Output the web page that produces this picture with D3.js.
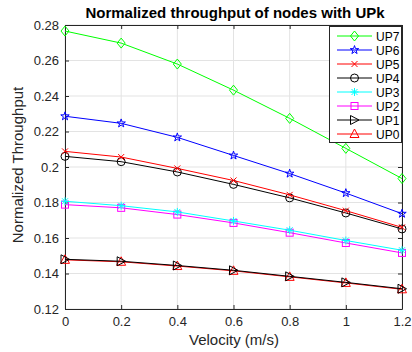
<!DOCTYPE html>
<html><head><meta charset="utf-8">
<script src="https://cdn.jsdelivr.net/npm/d3@7"></script>
<style>body{margin:0;background:#fff}svg{display:block;font-family:"Liberation Sans",Arial,sans-serif}</style>
</head><body><svg id="c" width="412" height="352"></svg>
<script>
const velocity = [0, 0.2, 0.4, 0.6, 0.8, 1.0, 1.2];
const UP7 = [0.2766, 0.2698, 0.2580, 0.2433, 0.2274, 0.2105, 0.1935];
const UP6 = [0.2286, 0.2246, 0.2167, 0.2065, 0.1963, 0.1853, 0.1737];
const UP5 = [0.2088, 0.2056, 0.1992, 0.1924, 0.1843, 0.1754, 0.1660];
const UP4 = [0.2060, 0.2030, 0.1972, 0.1902, 0.1826, 0.1741, 0.1651];
const UP3 = [0.1807, 0.1782, 0.1747, 0.1696, 0.1644, 0.1586, 0.1531];
const UP2 = [0.1788, 0.1770, 0.1732, 0.1685, 0.1630, 0.1572, 0.1516];
const UP1 = [0.1480, 0.1469, 0.1445, 0.1418, 0.1384, 0.1350, 0.1314];
const UP0 = [0.1477, 0.1466, 0.1442, 0.1415, 0.1381, 0.1347, 0.1311];
const xTicks = [0, 0.2, 0.4, 0.6, 0.8, 1, 1.2];
const yTicks = [0.12, 0.14, 0.16, 0.18, 0.2, 0.22, 0.24, 0.26, 0.28];
const seriesNames = ["UP7","UP6","UP5","UP4","UP3","UP2","UP1","UP0"];
const seriesValues = [UP7,UP6,UP5,UP4,UP3,UP2,UP1,UP0];
const seriesColors = ["#00ff00","#0000ff","#ff0000","#000000","#00ffff","#ff00ff","#000000","#ff0000"];
const seriesMarkers = ["diamond","star","x","circle","asterisk","square","triRight","triUp"];

const svg = d3.select("#c");
const L = 65, R = 402, T = 25, B = 309;
const x = d3.scaleLinear().domain([0, 1.2]).range([L, R]);
const y = d3.scaleLinear().domain([0.12, 0.28]).range([B, T]);

// grid
const g = svg.append("g");
g.selectAll(".gx").data(xTicks).join("line")
  .attr("x1", d => x(d)).attr("x2", d => x(d)).attr("y1", T).attr("y2", B)
  .attr("stroke", "#e3e3e3").attr("stroke-width", 1);
g.selectAll(".gy").data(yTicks).join("line")
  .attr("x1", L).attr("x2", R).attr("y1", d => y(d)).attr("y2", d => y(d))
  .attr("stroke", "#e3e3e3").attr("stroke-width", 1);

// axes
const fmt = d => String(+d.toFixed(2));
const ax = svg.append("g").attr("transform", `translate(0,${B})`)
  .call(d3.axisBottom(x).tickValues(xTicks).tickFormat(fmt).tickSizeInner(-4).tickSizeOuter(0).tickPadding(8));
const ay = svg.append("g").attr("transform", `translate(${L},0)`)
  .call(d3.axisLeft(y).tickValues(yTicks).tickFormat(fmt).tickSizeInner(-4).tickSizeOuter(0).tickPadding(6));
const axt = svg.append("g").attr("transform", `translate(0,${T})`)
  .call(d3.axisTop(x).tickValues(xTicks).tickFormat("").tickSizeInner(-4).tickSizeOuter(0));
const ayr = svg.append("g").attr("transform", `translate(${R},0)`)
  .call(d3.axisRight(y).tickValues(yTicks).tickFormat("").tickSizeInner(-4).tickSizeOuter(0));
[ax, ay, axt, ayr].forEach(a => {
  a.selectAll("path,line").attr("stroke", "#262626");
  a.selectAll("text").attr("fill", "#262626").style("font-size", "13px").style("font-family", "Liberation Sans, Arial, sans-serif");
});

// marker drawing
function drawMarker(sel, type, color, cx, cy) {
  const m = sel.append("g").attr("transform", `translate(${cx},${cy})`)
    .attr("fill", "none").attr("stroke", color).attr("stroke-width", 1);
  if (type === "diamond") m.append("path").attr("d", "M0,-5L4,0L0,5L-4,0Z");
  else if (type === "circle") m.append("circle").attr("r", 4);
  else if (type === "square") m.append("rect").attr("x", -3.5).attr("y", -3.5).attr("width", 7).attr("height", 7);
  else if (type === "x") m.append("path").attr("d", "M-3,-3L3,3M-3,3L3,-3");
  else if (type === "asterisk") m.append("path").attr("d", "M-4,0L4,0M0,-4L0,4M-3,-3L3,3M-3,3L3,-3");
  else if (type === "triRight") m.append("path").attr("d", "M-4,-4.5L4.5,0L-4,4.5Z");
  else if (type === "triUp") m.append("path").attr("d", "M0,-5L4.5,3.5L-4.5,3.5Z");
  else if (type === "star") m.append("path").attr("d", d3.symbol(d3.symbolStar, 22)());
}

const line = d3.line().x((d, i) => x(velocity[i])).y(d => y(d));
const order = [7,6,5,4,3,2,1,0];
order.forEach(k => {
  const vals = seriesValues[k];
  const sg = svg.append("g");
  sg.append("path").datum(vals).attr("d", line).attr("fill", "none")
    .attr("stroke", seriesColors[k]).attr("stroke-width", 1);
  vals.forEach((v, i) => drawMarker(sg, seriesMarkers[k], seriesColors[k], x(velocity[i]), y(v)));
});

// legend
const lg = svg.append("g");
lg.append("rect").attr("x", 329.5).attr("y", 26.5).attr("width", 72).attr("height", 116)
  .attr("fill", "#fff").attr("stroke", "#262626").attr("stroke-width", 1);
seriesNames.forEach((n, i) => {
  const yy = 36 + i * 14;
  lg.append("line").attr("x1", 337).attr("x2", 372).attr("y1", yy).attr("y2", yy)
    .attr("stroke", seriesColors[i]).attr("stroke-width", 1);
  drawMarker(lg, seriesMarkers[i], seriesColors[i], 354.5, yy);
  lg.append("text").attr("x", 376).attr("y", yy + 4.5).text(n)
    .attr("fill", "#000").style("font-size", "12px");
});

// title and labels
svg.append("text").attr("x", 235).attr("y", 18).attr("text-anchor", "middle")
  .style("font-weight", "bold").style("font-size", "15px").attr("fill", "#000")
  .text("Normalized throughput of nodes with UPk");
svg.append("text").attr("x", 234).attr("y", 345).attr("text-anchor", "middle")
  .style("font-size", "15px").attr("fill", "#262626").text("Velocity (m/s)");
svg.append("text").attr("transform", "translate(23,165) rotate(-90)").attr("text-anchor", "middle")
  .style("font-size", "15px").attr("fill", "#262626").text("Normalized Throughput");
</script></body></html>
